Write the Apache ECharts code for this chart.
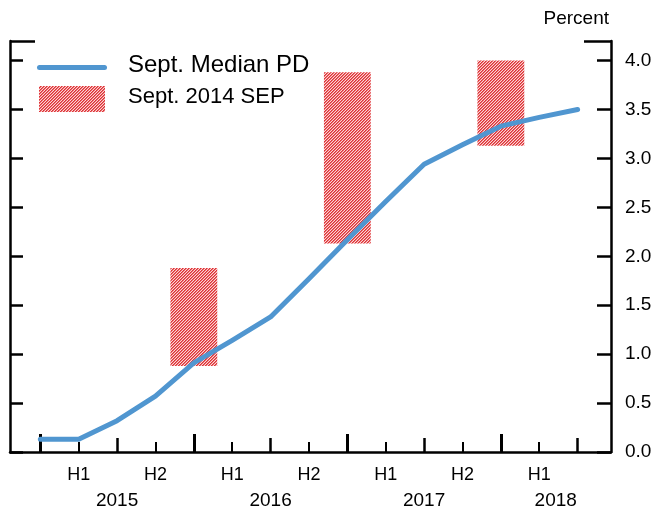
<!DOCTYPE html>
<html>
<head>
<meta charset="utf-8">
<script src="https://cdn.jsdelivr.net/npm/echarts@6/dist/echarts.min.js"></script>
<style>
  html, body { margin: 0; padding: 0; background: #fff; }
  #chart { width: 656px; height: 512px; }
</style>
</head>
<body>
<div id="chart"></div>
<script>
// Quarter index: 0 = start of 2015, 4 = start of 2016, ...
const quarters = [0, 1, 2, 3, 4, 5, 6, 7, 8, 9, 10, 11, 12, 13, 14];
const medianPD = [0.13, 0.13, 0.32, 0.57, 0.91, 1.14, 1.38, 1.77, 2.17, 2.56, 2.94, 3.14, 3.33, 3.42, 3.50];

// September 2014 SEP ranges, placed at year-end quarters
const sepQuarter = [4, 8, 12];
const sepLow = [0.88, 2.13, 3.13];
const sepHigh = [1.88, 3.88, 4.00];

// Axis label positions and text (2018 is centred on its visible part)
const halfTickPos = [1, 3, 5, 7, 9, 11, 13];
const halfLabels = ['H1', 'H2', 'H1', 'H2', 'H1', 'H2', 'H1'];
const yearTickPos = [2, 6, 10, 14];
const yearLabelPos = [2, 6, 10, 13.43];
const yearLabels = ['2015', '2016', '2017', '2018'];
const yearBoundaryPos = [0, 4, 8, 12];
const yTicks = [0, 0.5, 1.0, 1.5, 2.0, 2.5, 3.0, 3.5, 4.0];

const BLUE = '#5096d0';
const FONT = 'Liberation Sans, Arial, sans-serif';

// Diagonal red hatch used for the SEP boxes
function makeHatch() {
  const c = document.createElement('canvas');
  c.width = 6; c.height = 6;
  const ctx = c.getContext('2d');
  const img = ctx.createImageData(6, 6);
  const shades = [[221, 50, 54], [234, 110, 112], [251, 214, 214]];
  for (let y = 0; y < 6; y++) {
    for (let x = 0; x < 6; x++) {
      const i = (y * 6 + x) * 4;
      const col = shades[(x + y) % 3];
      img.data[i] = col[0]; img.data[i + 1] = col[1]; img.data[i + 2] = col[2]; img.data[i + 3] = 255;
    }
  }
  ctx.putImageData(img, 0, 0);
  return c;
}
const hatch = { image: makeHatch(), repeat: 'repeat' };

const X_MIN = -0.79, X_MAX = 14.87;
const Y_MIN = 0, Y_MAX = 4.2;

const baseX = {
  type: 'value', min: X_MIN, max: X_MAX,
  splitLine: { show: false },
  axisLine: { show: false },
  axisLabel: { show: false },
  axisTick: { show: false }
};

const chart = echarts.init(document.getElementById('chart'), null, { renderer: 'canvas' });

chart.setOption({
  animation: false,
  backgroundColor: '#fff',
  grid: { left: 10, right: 45, top: 41, bottom: 60, containLabel: false },
  xAxis: [
    Object.assign({}, baseX, {
      position: 'bottom',
      axisLine: { show: true, onZero: false, lineStyle: { color: '#000', width: 2.5 } },
      axisTick: { show: true, inside: true, length: 18, customValues: yearBoundaryPos,
                  lineStyle: { color: '#000', width: 3 } },
      axisLabel: { show: true, customValues: halfTickPos, margin: 14,
                   fontFamily: FONT, fontSize: 18, color: '#000',
                   formatter: v => halfLabels[halfTickPos.indexOf(v)] }
    }),
    Object.assign({}, baseX, {
      position: 'bottom',
      axisTick: { show: true, inside: true, length: 14, customValues: yearTickPos,
                  lineStyle: { color: '#000', width: 2.5 } },
      axisLabel: { show: true, customValues: yearLabelPos, margin: 39,
                   fontFamily: FONT, fontSize: 19, color: '#000',
                   formatter: v => yearLabels[yearLabelPos.indexOf(v)] }
    }),
    Object.assign({}, baseX, {
      position: 'bottom',
      axisTick: { show: true, inside: true, length: 10, customValues: halfTickPos,
                  lineStyle: { color: '#000', width: 2 } }
    })
  ],
  yAxis: [
    {
      type: 'value', position: 'right', min: Y_MIN, max: Y_MAX,
      splitLine: { show: false },
      axisLine: { show: true, onZero: false, lineStyle: { color: '#000', width: 2.5 } },
      axisTick: { show: true, inside: true, length: 14, customValues: yTicks,
                  lineStyle: { color: '#000', width: 2.5 } },
      axisLabel: { show: true, customValues: yTicks, margin: 14,
                   fontFamily: FONT, fontSize: 19, color: '#000',
                   formatter: v => v.toFixed(1) }
    },
    {
      type: 'value', position: 'left', min: Y_MIN, max: Y_MAX,
      splitLine: { show: false },
      axisLine: { show: true, onZero: false, lineStyle: { color: '#000', width: 2.5 } },
      axisTick: { show: true, inside: true, length: 13, customValues: yTicks,
                  lineStyle: { color: '#000', width: 2.5 } },
      axisLabel: { show: false }
    },
    {
      type: 'value', position: 'right', min: Y_MIN, max: Y_MAX,
      splitLine: { show: false }, axisLabel: { show: false },
      axisLine: { show: false, onZero: false },
      axisTick: { show: true, inside: true, length: 27, customValues: [Y_MAX],
                  lineStyle: { color: '#000', width: 2.5 } }
    },
    {
      type: 'value', position: 'left', min: Y_MIN, max: Y_MAX,
      splitLine: { show: false }, axisLabel: { show: false },
      axisLine: { show: false, onZero: false },
      axisTick: { show: true, inside: true, length: 25, customValues: [Y_MAX],
                  lineStyle: { color: '#000', width: 2.5 } }
    }
  ],
  graphic: [
    { type: 'text', right: 47, top: 9,
      style: { text: 'Percent', fontFamily: FONT, fontSize: 19, fill: '#000' } },
    { type: 'line', shape: { x1: 39.5, y1: 67.5, x2: 104.5, y2: 67.5 },
      style: { stroke: BLUE, lineWidth: 5, lineCap: 'round' } },
    { type: 'text', left: 128, top: 53,
      style: { text: 'Sept. Median PD', fontFamily: FONT, fontSize: 24, fill: '#000' } },
    { type: 'rect', shape: { x: 39, y: 86, width: 66, height: 26 },
      style: { fill: hatch } },
    { type: 'text', left: 128, top: 86,
      style: { text: 'Sept. 2014 SEP', fontFamily: FONT, fontSize: 22, fill: '#000' } }
  ],
  series: [
    {
      name: 'Sept. 2014 SEP',
      type: 'custom',
      xAxisIndex: 0, yAxisIndex: 0, z: 1,
      data: sepQuarter.map((q, i) => [q, sepLow[i], sepHigh[i]]),
      renderItem: function (params, api) {
        const top = api.coord([api.value(0), api.value(2)]);
        const bot = api.coord([api.value(0), api.value(1)]);
        const w = api.size([1.22, 0])[0];
        return {
          type: 'rect',
          shape: { x: top[0] - w / 2, y: top[1], width: w, height: bot[1] - top[1] },
          style: { fill: hatch }
        };
      }
    },
    {
      name: 'Sept. Median PD',
      type: 'line',
      xAxisIndex: 0, yAxisIndex: 0, z: 3,
      data: quarters.map((q, i) => [q, medianPD[i]]),
      showSymbol: false,
      lineStyle: { color: BLUE, width: 5, cap: 'round', join: 'round' }
    }
  ]
});
</script>
</body>
</html>
